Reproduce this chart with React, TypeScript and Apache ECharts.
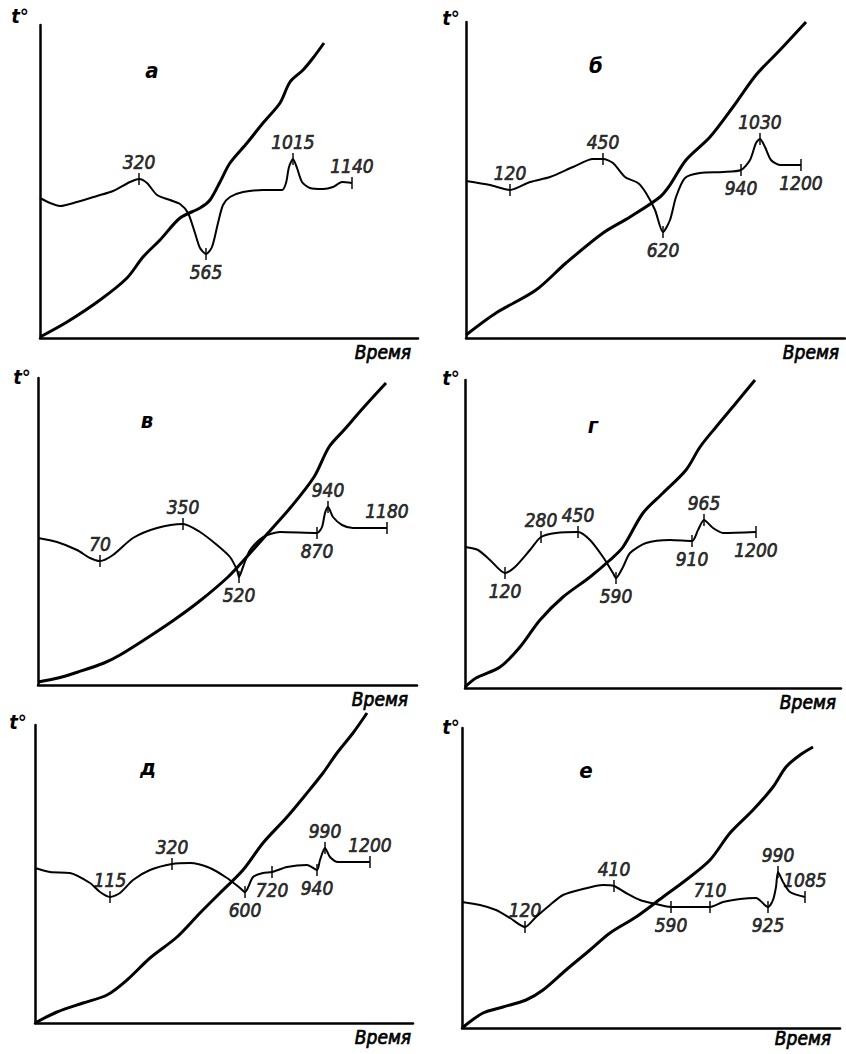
import React, { useEffect, useRef } from "react";
import * as echarts from "echarts";

type P = [number, number];

// ---- Panel а ----
const heatA: P[] = [[0,1],[27,16],[60,38],[87,60],[103,81],[120,98],[140,120],[160,130],[170,138],[180,156],[190,175],[207,195],[223,215],[240,235],[250,256],[263,268],[273,280],[284,295]];
const dtaA: P[] = [[0,140],[10,135],[20,132],[37,136],[57,142],[73,147],[90,156],[99,159],[107,155],[117,143],[130,138],[140,134],[148,125],[155,105],[160,90],[166,84],[172,91],[178,115],[183,133],[190,141],[203,146],[223,148],[242,148],[246,155],[249,171],[253,179],[257,170],[262,156],[270,150],[283,149],[293,151],[302,156],[312,155]];
const marksA: P[] = [[99,159],[166,84],[253,179],[312,155]];
const tempsA = [320, 565, 1015, 1140];
const sidesA = ["top", "bottom", "top", "top"];

// ---- Panel б ----
const heatB: P[] = [[0,3],[30,25],[70,48],[100,75],[137,105],[164,121],[194,141],[204,153],[220,178],[244,201],[267,231],[290,263],[314,288],[340,316]];
const dtaB: P[] = [[0,157],[24,153],[44,148],[64,156],[84,161],[107,171],[127,179],[137,179],[147,175],[159,161],[172,155],[180,145],[189,128],[197,106],[204,118],[210,141],[219,160],[234,165],[257,166],[275,168],[284,178],[290,195],[294,199],[299,191],[305,178],[314,173],[335,173]];
const marksB: P[] = [[44,148],[137,179],[197,106],[275,168],[294,199],[335,173]];
const tempsB = [120, 450, 620, 940, 1030, 1200];
const sidesB = ["top", "top", "bottom", "bottom", "top", "bottom"];

// ---- Panel в ----
const heatC: P[] = [[0,3],[20,7],[40,13],[66,22],[82,30],[106,45],[136,65],[163,85],[190,108],[206,125],[230,152],[253,178],[276,208],[291,238],[306,255],[326,278],[348,302]];
const dtaC: P[] = [[0,147],[19,143],[39,135],[52,127],[62,124],[75,130],[95,147],[119,157],[145,161],[162,153],[179,140],[192,128],[199,115],[201,108],[205,118],[212,135],[225,148],[242,153],[279,152],[284,158],[287,172],[290,178],[295,168],[304,160],[315,157],[349,157]];
const marksC: P[] = [[62,124],[145,161],[201,108],[279,152],[290,178],[349,157]];
const tempsC = [70, 350, 520, 870, 940, 1180];
const sidesC = ["top", "top", "bottom", "bottom", "top", "top"];

// ---- Panel г ----
const heatD: P[] = [[0,1],[11,10],[35,21],[55,41],[75,68],[98,91],[125,111],[145,128],[158,141],[178,175],[198,195],[221,218],[235,241],[251,261],[271,285],[290,308]];
const dtaD: P[] = [[0,141],[13,138],[25,128],[40,115],[50,121],[65,138],[76,151],[91,155],[113,156],[125,148],[138,131],[148,115],[151,110],[158,121],[165,135],[181,145],[205,148],[227,147],[233,158],[239,168],[248,160],[258,155],[291,156]];
const marksD: P[] = [[40,115],[76,151],[113,156],[151,110],[227,147],[239,168],[291,156]];
const tempsD = [120, 280, 450, 590, 910, 965, 1200];
const sidesD = ["bottom", "top", "top", "bottom", "bottom", "top", "bottom"];

// ---- Panel д ----
const heatE: P[] = [[0,0],[22,11],[48,20],[72,28],[92,43],[115,65],[142,86],[165,110],[185,130],[208,153],[228,180],[252,206],[272,230],[288,250],[302,270],[318,290],[332,310]];
const dtaE: P[] = [[0,155],[15,151],[35,150],[55,140],[65,131],[75,126],[85,130],[98,143],[115,153],[137,159],[155,160],[175,155],[192,145],[205,135],[210,131],[218,146],[228,150],[237,151],[252,156],[272,158],[282,153],[285,163],[290,175],[295,166],[303,161],[335,161]];
const marksE: P[] = [[75,126],[137,159],[210,131],[237,151],[282,153],[290,175],[335,161]];
const tempsE = [115, 320, 600, 720, 940, 990, 1200];
const sidesE = ["top", "top", "bottom", "bottom", "bottom", "top", "top"];

// ---- Panel е ----
const heatF: P[] = [[0,0],[21,15],[41,21],[64,28],[81,38],[104,58],[128,78],[148,95],[174,111],[201,131],[224,148],[248,168],[268,195],[291,218],[311,241],[324,261],[338,273],[351,281]];
const dtaF: P[] = [[0,126],[18,123],[34,118],[48,110],[63,101],[74,111],[88,123],[101,133],[121,139],[141,143],[152,142],[164,135],[178,128],[194,124],[209,121],[224,121],[248,121],[261,126],[278,129],[294,130],[306,121],[311,128],[314,141],[316,156],[321,146],[328,136],[343,131]];
const marksF: P[] = [[63,101],[152,142],[209,121],[248,121],[306,121],[316,156],[343,131]];
const tempsF = [120, 410, 590, 710, 925, 990, 1085];
const sidesF = ["top", "top", "bottom", "top", "bottom", "top", "top"];

const panelLetters = ["а", "б", "в", "г", "д", "е"];
const yName = "t°";
const xName = "Время";

// layout (pixels): axis frame of each panel
const frames = [
  { l: 40, t: 25, r: 418, b: 338 },
  { l: 466, t: 22, r: 845, b: 338 },
  { l: 38, t: 378, r: 417, b: 685 },
  { l: 465, t: 380, r: 841, b: 688 },
  { l: 35, t: 725, r: 413, b: 1023 },
  { l: 462, t: 728, r: 840, b: 1028 },
];
const letterPos = [[152, 70], [596, 65], [147, 420], [593, 425], [148, 767], [586, 770]];
const yNamePos = [[20, 16], [451, 18], [22, 377], [451, 378], [18, 722], [451, 727]];
const xNamePos = [[383, 352], [811, 352], [380, 699], [808, 702], [383, 1037], [803, 1038]];

const panels = [
  { heat: heatA, dta: dtaA, marks: marksA, temps: tempsA, sides: sidesA },
  { heat: heatB, dta: dtaB, marks: marksB, temps: tempsB, sides: sidesB },
  { heat: heatC, dta: dtaC, marks: marksC, temps: tempsC, sides: sidesC },
  { heat: heatD, dta: dtaD, marks: marksD, temps: tempsD, sides: sidesD },
  { heat: heatE, dta: dtaE, marks: marksE, temps: tempsE, sides: sidesE },
  { heat: heatF, dta: dtaF, marks: marksF, temps: tempsF, sides: sidesF },
];

const FONT = "'DejaVu Sans Condensed', 'Liberation Sans', sans-serif";

export default function App() {
  const ref = useRef<HTMLDivElement>(null);
  useEffect(() => {
    document.body.style.margin = "0";
    const chart = echarts.init(ref.current!, null, { renderer: "svg" });
    const grid: any[] = [];
    const xAxis: any[] = [];
    const yAxis: any[] = [];
    const series: any[] = [];
    const graphic: any[] = [];
    frames.forEach((f, i) => {
      const w = f.r - f.l;
      const h = f.b - f.t;
      grid.push({ left: f.l, top: f.t, width: w, height: h });
      const axisCommon = {
        type: "value",
        gridIndex: i,
        min: 0,
        axisLine: { show: true, lineStyle: { color: "#000", width: 2.5 } },
        axisTick: { show: false },
        axisLabel: { show: false },
        splitLine: { show: false },
      };
      xAxis.push({ ...axisCommon, max: w });
      yAxis.push({ ...axisCommon, max: h });
      const p = panels[i];
      series.push({
        type: "line",
        xAxisIndex: i,
        yAxisIndex: i,
        data: p.heat,
        smooth: 0.3,
        showSymbol: false,
        clip: false,
        lineStyle: { color: "#000", width: 3 },
      });
      series.push({
        type: "line",
        xAxisIndex: i,
        yAxisIndex: i,
        data: p.dta,
        smooth: 0.25,
        showSymbol: false,
        clip: false,
        lineStyle: { color: "#000", width: 2 },
      });
      series.push({
        type: "scatter",
        xAxisIndex: i,
        yAxisIndex: i,
        clip: false,
        symbol: "rect",
        symbolSize: [1.8, 12],
        itemStyle: { color: "#000" },
        z: 5,
        data: p.marks.map((m, k) => ({
          value: [m[0], m[1], p.temps[k]],
          label: { position: p.sides[k] },
        })),
        label: {
          show: true,
          distance: 2,
          formatter: (q: any) => String(q.value[2]),
          fontFamily: FONT,
          fontStyle: "italic",
          fontWeight: "normal",
          fontSize: 19,
          color: "#000",
          textBorderColor: "#000",
          textBorderWidth: 0.7,
        },
      });
      graphic.push({
        type: "text",
        x: letterPos[i][0],
        y: letterPos[i][1],
        style: {
          text: panelLetters[i],
          fontFamily: FONT,
          fontStyle: "italic",
          fontWeight: "bold",
          fontSize: 22,
          fill: "#000",
          align: "center",
          verticalAlign: "middle",
        },
      });
      graphic.push({
        type: "text",
        x: yNamePos[i][0],
        y: yNamePos[i][1],
        style: {
          text: yName,
          fontFamily: FONT,
          fontStyle: "italic",
          fontWeight: "bold",
          fontSize: 20,
          fill: "#000",
          align: "center",
          verticalAlign: "middle",
        },
      });
      graphic.push({
        type: "text",
        x: xNamePos[i][0],
        y: xNamePos[i][1],
        style: {
          text: xName,
          fontFamily: FONT,
          fontStyle: "italic",
          fontWeight: "normal",
          fontSize: 19,
          fill: "#000",
          stroke: "#000",
          lineWidth: 0.7,
          align: "center",
          verticalAlign: "middle",
        },
      });
    });
    chart.setOption({
      animation: false,
      backgroundColor: "#fff",
      grid,
      xAxis,
      yAxis,
      series,
      graphic,
    });
    return () => chart.dispose();
  }, []);
  return (
    <div
      ref={ref}
      style={{ position: "absolute", left: 0, top: 0, width: 846, height: 1054 }}
    />
  );
}
